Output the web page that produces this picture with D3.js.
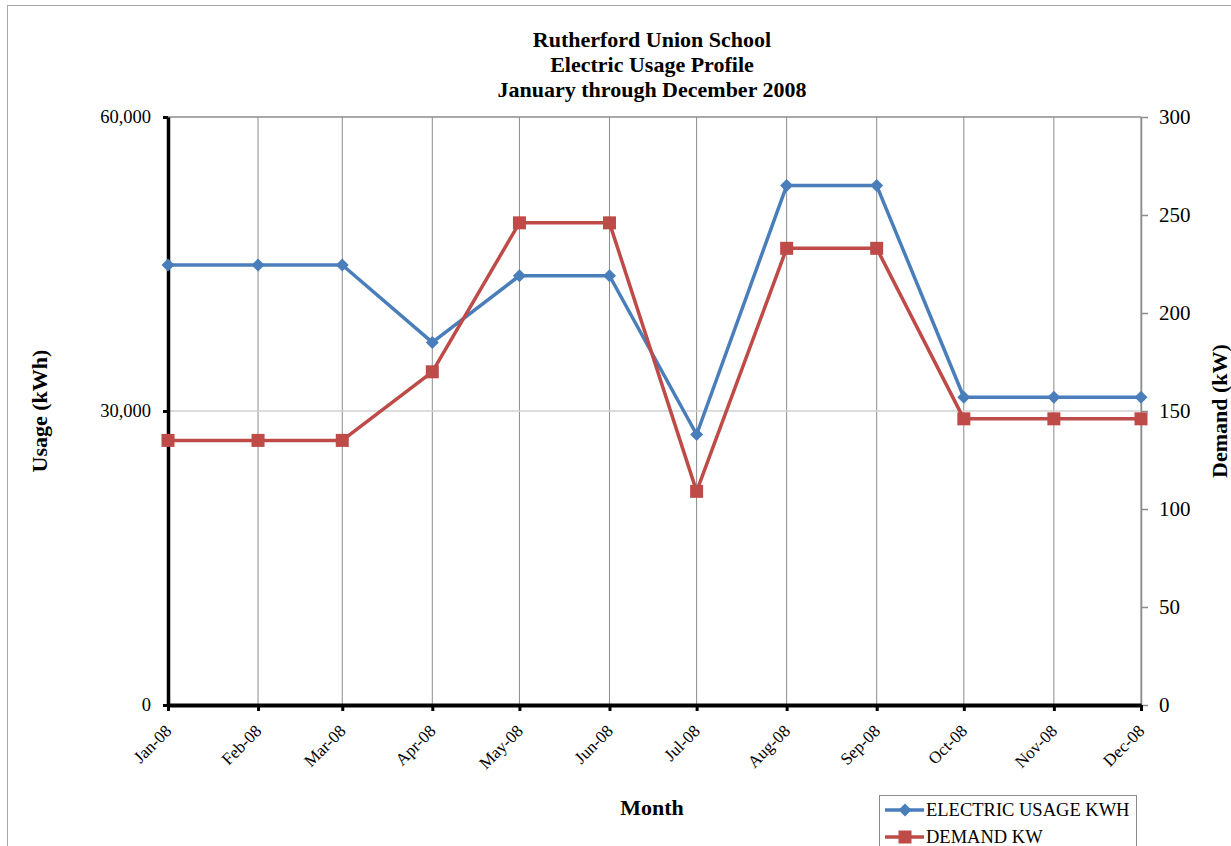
<!DOCTYPE html>
<html>
<head>
<meta charset="utf-8">
<script src="https://cdn.jsdelivr.net/npm/d3@7"></script>
<style>
  html, body { margin: 0; padding: 0; background: #fff; }
  svg { display: block; }
  text { font-family: "Liberation Serif", "Times New Roman", serif; fill: #000; }
</style>
</head>
<body>
<svg id="chart" width="1231" height="846"></svg>
<script>
// ---- Data ----
const titleLines = ["Rutherford Union School", "Electric Usage Profile", "January through December 2008"];
const monthLabels = ["Jan-08","Feb-08","Mar-08","Apr-08","May-08","Jun-08","Jul-08","Aug-08","Sep-08","Oct-08","Nov-08","Dec-08"];
const monthIndex = [0,1,2,3,4,5,6,7,8,9,10,11];
const usageKWh = [44900,44900,44900,37000,43800,43800,27600,53000,53000,31400,31400,31400];
const demandKW = [135,135,135,170,246,246,109,233,233,146,146,146];
const leftTicks = [0, 30000, 60000];
const rightTicks = [0, 50, 100, 150, 200, 250, 300];
const seriesNames = ["ELECTRIC USAGE KWH", "DEMAND KW"];

const dates = monthIndex.map(m => new Date(2008, m, 1));
const rows = dates.map((d, i) => ({ date: d, label: monthLabels[i], usage: usageKWh[i], demand: demandKW[i] }));

// ---- Layout ----
const svg = d3.select("#chart");
const plot = { left: 168, right: 1141, top: 117, bottom: 705 };
const blue = "#4A7EBB", red = "#BE4B48";

const x = d3.scaleTime().domain([dates[0], dates[dates.length - 1]]).range([plot.left, plot.right]);
const yL = d3.scaleLinear().domain([0, 60000]).range([plot.bottom, plot.top]);
const yR = d3.scaleLinear().domain([0, 300]).range([plot.bottom, plot.top]);

// outer border
svg.append("rect").attr("x", 7.5).attr("y", 5.5).attr("width", 1240).attr("height", 900)
  .attr("fill", "#fff").attr("stroke", "#a6a6a6").attr("stroke-width", 1);

// title
svg.append("g").selectAll("text").data(titleLines).join("text")
  .attr("x", 652).attr("y", (d, i) => 47 + i * 25)
  .attr("text-anchor", "middle").attr("font-size", 22).attr("font-weight", "bold")
  .text(d => d);

// gridlines
svg.append("g").selectAll("line").data(dates).join("line")
  .attr("x1", d => x(d)).attr("x2", d => x(d))
  .attr("y1", plot.top).attr("y2", plot.bottom)
  .attr("stroke", "#8c8c8c").attr("stroke-width", 1);
svg.append("line").attr("x1", plot.left).attr("x2", plot.right)
  .attr("y1", yL(30000)).attr("y2", yL(30000))
  .attr("stroke", "#d0d0d0").attr("stroke-width", 1.5);
svg.append("line").attr("x1", plot.left).attr("x2", plot.right)
  .attr("y1", yL(60000)).attr("y2", yL(60000))
  .attr("stroke", "#8c8c8c").attr("stroke-width", 1.5);

// right axis
const gR = svg.append("g").attr("transform", `translate(${plot.right},0)`)
  .call(d3.axisRight(yR).tickValues(rightTicks).tickSize(7).tickSizeOuter(0).tickPadding(11).tickFormat(d3.format("d")));
gR.select(".domain").attr("stroke", "#8c8c8c").attr("stroke-width", 1.5);
gR.selectAll(".tick line").attr("stroke", "#8c8c8c").attr("stroke-width", 1.5);
gR.selectAll(".tick text").attr("font-size", 21).attr("font-family", "Liberation Serif, serif").attr("fill", "#000");

// left axis
const gL = svg.append("g").attr("transform", `translate(${plot.left},0)`)
  .call(d3.axisLeft(yL).tickValues(leftTicks).tickSize(5).tickSizeOuter(0).tickPadding(12).tickFormat(d3.format(",")));
gL.select(".domain").attr("stroke", "#000").attr("stroke-width", 3.5);
gL.selectAll(".tick line").attr("stroke", "#000").attr("stroke-width", 3);
gL.selectAll(".tick text").attr("font-size", 18.5).attr("font-family", "Liberation Serif, serif").attr("fill", "#000");

// bottom axis
const gB = svg.append("g").attr("transform", `translate(0,${plot.bottom})`)
  .call(d3.axisBottom(x).tickValues(dates).tickSize(6).tickSizeOuter(0).tickFormat(""));
gB.select(".domain").attr("stroke", "#000").attr("stroke-width", 4);
gB.selectAll(".tick line").attr("stroke", "#000").attr("stroke-width", 3);
gB.selectAll(".tick").each(function(d, i) {
  d3.select(this).append("text")
    .attr("transform", "translate(4,27) rotate(-45)")
    .attr("text-anchor", "end").attr("font-size", 17)
    .attr("font-family", "Liberation Serif, serif").attr("fill", "#000")
    .text(monthLabels[i]);
});

// axis titles
svg.append("text").attr("transform", "translate(47,411) rotate(-90)")
  .attr("text-anchor", "middle").attr("font-size", 22).attr("font-weight", "bold").text("Usage (kWh)");
svg.append("text").attr("transform", "translate(1227,411) rotate(-90)")
  .attr("text-anchor", "middle").attr("font-size", 22).attr("font-weight", "bold").text("Demand (kW)");
svg.append("text").attr("x", 652).attr("y", 815)
  .attr("text-anchor", "middle").attr("font-size", 22).attr("font-weight", "bold").text("Month");

// series lines
const lineU = d3.line().x(d => x(d.date)).y(d => yL(d.usage));
const lineD = d3.line().x(d => x(d.date)).y(d => yR(d.demand));
svg.append("path").datum(rows).attr("d", lineU).attr("fill", "none")
  .attr("stroke", blue).attr("stroke-width", 3.5).attr("stroke-linejoin", "round");
svg.append("g").selectAll("path").data(rows).join("path")
  .attr("transform", d => `translate(${x(d.date)},${yL(d.usage)})`)
  .attr("d", "M0,-6.5L6.5,0L0,6.5L-6.5,0Z").attr("fill", blue);

svg.append("path").datum(rows).attr("d", lineD).attr("fill", "none")
  .attr("stroke", red).attr("stroke-width", 3.5).attr("stroke-linejoin", "round");
svg.append("g").selectAll("rect").data(rows).join("rect")
  .attr("x", d => x(d.date) - 6.5).attr("y", d => yR(d.demand) - 6.5)
  .attr("width", 13).attr("height", 13).attr("fill", red);

// legend
const lg = svg.append("g");
lg.append("rect").attr("x", 879.5).attr("y", 795.5).attr("width", 257).attr("height", 90)
  .attr("fill", "#fff").attr("stroke", "#8c8c8c").attr("stroke-width", 1);
const legendRows = [
  { name: seriesNames[0], color: blue, shape: "diamond", y: 810 },
  { name: seriesNames[1], color: red, shape: "square", y: 837 }
];
legendRows.forEach(r => {
  lg.append("line").attr("x1", 885).attr("x2", 924).attr("y1", r.y).attr("y2", r.y)
    .attr("stroke", r.color).attr("stroke-width", 3.5);
  if (r.shape === "diamond") {
    lg.append("path").attr("transform", `translate(905,${r.y})`)
      .attr("d", "M0,-6.5L6.5,0L0,6.5L-6.5,0Z").attr("fill", r.color);
  } else {
    lg.append("rect").attr("x", 898.5).attr("y", r.y - 6.5).attr("width", 13).attr("height", 13).attr("fill", r.color);
  }
  lg.append("text").attr("x", 926).attr("y", r.y).attr("dy", "0.35em")
    .attr("font-size", 18.5).text(r.name);
});
</script>
</body>
</html>
